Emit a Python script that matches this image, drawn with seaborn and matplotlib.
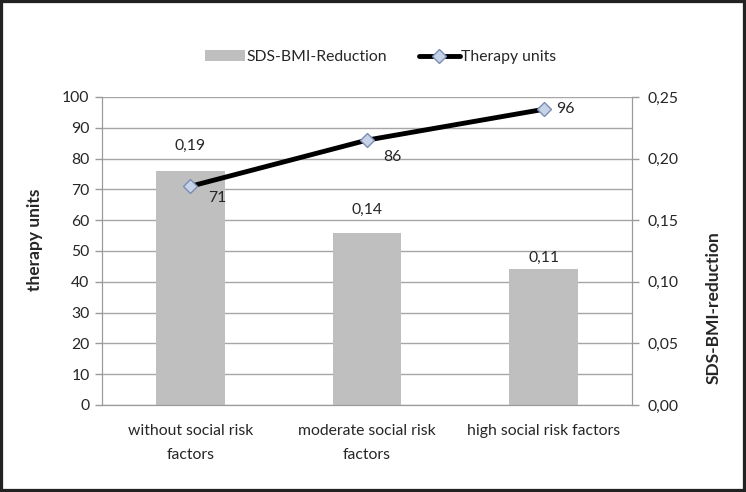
import matplotlib
matplotlib.use('Agg')
import matplotlib.pyplot as plt
import seaborn as sns
import pandas as pd
from matplotlib.lines import Line2D
from matplotlib.patches import Patch, Rectangle
from matplotlib.ticker import MultipleLocator, FuncFormatter

# data
groups = ['without social risk\nfactors', 'moderate social risk\nfactors', 'high social risk factors']
therapy_units = [71, 86, 96]
sds_bmi_reduction = [0.19, 0.14, 0.11]

# label offsets in pixels (Excel placement)
unit_label_offsets = [(27, -12), (25, -17), (22, 0)]
bar_label_offsets = [25, 23, 12]

df = pd.DataFrame({'group': groups, 'units': therapy_units, 'sds': sds_bmi_reduction})

sns.set_style('white')
plt.rcParams['font.family'] = ['Lato', 'DejaVu Sans']
text_col = '#262626'
fs = 11.3

fig = plt.figure(figsize=(7.46, 4.92), dpi=100)
ax = fig.add_axes([102 / 746, 1 - 405 / 492, 530 / 746, 308 / 492])
ax2 = ax.twinx()

# bars on the secondary axis, line on the primary one (drawn on top)
ax.set_zorder(ax2.get_zorder() + 1)
ax.patch.set_visible(False)

sns.barplot(data=df, x='group', y='sds', ax=ax2, color='#bfbfbf', width=0.39,
            saturation=1, edgecolor='none')
sns.lineplot(data=df, x='group', y='units', ax=ax, color='black', lw=3.5,
             marker='D', markersize=7.5, markerfacecolor='#c6d2e6',
             markeredgecolor='#7b8db5', markeredgewidth=1, sort=False)

ax.set_xlim(-0.5, 2.5)
ax.set_ylim(0, 100)
ax2.set_ylim(0, 0.25)

ax.yaxis.set_major_locator(MultipleLocator(10))
ax2.yaxis.set_major_locator(MultipleLocator(0.05))
ax2.yaxis.set_minor_locator(MultipleLocator(0.025))
ax2.yaxis.set_major_formatter(FuncFormatter(lambda v, p: f'{v:.2f}'.replace('.', ',')))
ax2.grid(True, which='both', axis='y', color='#a6a6a6', lw=1)
ax2.set_axisbelow(True)

for a in (ax, ax2):
    for s in a.spines.values():
        s.set_color('#9a9a9a')
    a.spines['top'].set_visible(False)
    a.tick_params(axis='y', colors='#9a9a9a', labelcolor=text_col, labelsize=fs,
                  direction='out', length=5, width=1)
ax2.tick_params(axis='y', which='minor', length=0)
ax.tick_params(axis='y', left=True, pad=4)
ax2.tick_params(axis='y', right=True, pad=6)

# category tick marks at the borders, labels at the centers
ax.set_xticks([0, 1, 2])
ax.set_xticklabels(groups, fontsize=fs, color=text_col, linespacing=1.85)
ax.tick_params(axis='x', which='major', length=0, pad=14)
ax.set_xticks([-0.5, 0.5, 1.5, 2.5], minor=True)
ax.tick_params(axis='x', which='minor', length=5, color='#9a9a9a', direction='out')
ax2.set_xlabel('')
ax.set_xlabel('')

ax.set_ylabel('therapy units', fontsize=12.5, fontweight='bold', color=text_col)
ax.yaxis.set_label_coords(-59 / 530, (405 - 240) / 308)
ax2.set_ylabel('SDS-BMI-reduction', fontsize=12.5, fontweight='bold', color=text_col,
               rotation=90, va='center')
ax2.yaxis.set_label_coords((714 - 102) / 530, (405 - 308) / 308)

for i, (u, off) in enumerate(zip(therapy_units, unit_label_offsets)):
    ax.annotate(str(u), (i, u), xytext=off, textcoords='offset pixels',
                ha='center', va='center', fontsize=fs, color=text_col)
for i, (v, off) in enumerate(zip(sds_bmi_reduction, bar_label_offsets)):
    ax2.annotate(f'{v:.2f}'.replace('.', ','), (i, v), xytext=(0, off),
                 textcoords='offset pixels', ha='center', va='center',
                 fontsize=fs, color=text_col)

handles = [Patch(facecolor='#bfbfbf', edgecolor='none', label='SDS-BMI-Reduction'),
           Line2D([0], [0], color='black', lw=3.5, marker='D', markersize=7,
                  markerfacecolor='#c6d2e6', markeredgecolor='#7b8db5',
                  label='Therapy units')]
leg = fig.legend(handles=handles, loc='center', bbox_to_anchor=(0.51, 1 - 57 / 492),
                 ncol=2, frameon=False, fontsize=fs, handlelength=2.6,
                 handletextpad=0.1, columnspacing=2.0)
for t in leg.get_texts():
    t.set_color(text_col)

fig.add_artist(Rectangle((0, 0), 1, 1, transform=fig.transFigure, fill=False,
                         edgecolor='#222222', lw=4.5))

fig.savefig('out.png', dpi=100)
